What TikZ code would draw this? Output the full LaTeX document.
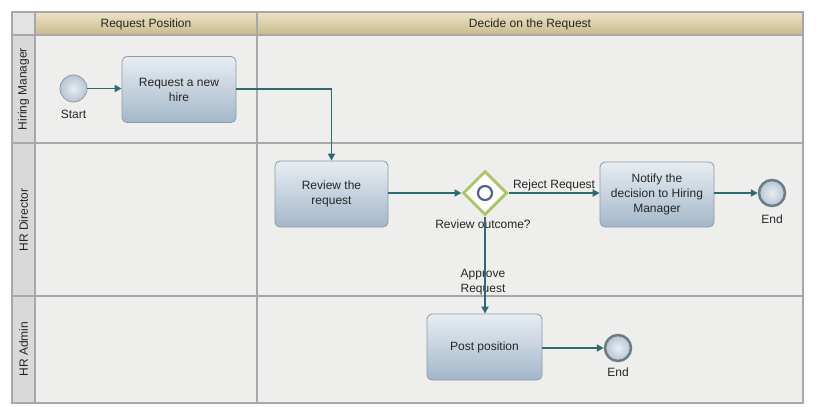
\documentclass[tikz,border=0pt]{standalone}
\usepackage{fontspec}
\setmainfont{Liberation Sans}
\usetikzlibrary{shapes.geometric,arrows.meta}
\definecolor{flow}{HTML}{2E6A72}
\definecolor{bggray}{HTML}{EEEEEC}
\definecolor{gridline}{HTML}{A8A8A8}
\definecolor{hdrtop}{HTML}{EDE3C4}
\definecolor{hdrbot}{HTML}{C9B98F}
\definecolor{lanecol}{HTML}{D9D9D9}
\definecolor{tasktop}{HTML}{E8EDF2}
\definecolor{taskbot}{HTML}{A3B7C9}
\definecolor{taskline}{HTML}{8E9AA6}
\definecolor{gwline}{HTML}{AEC46A}
\definecolor{gwring}{HTML}{4F6290}
\definecolor{endring}{HTML}{6F7B84}
\definecolor{txt}{HTML}{262626}
\begin{document}
\begin{tikzpicture}[x=1pt,y=-1pt,
  every node/.style={font=\fontsize{12}{15}\selectfont, text=txt},
  task/.style={rectangle, rounded corners=5pt, draw=taskline, line width=0.8pt,
    top color=tasktop, bottom color=taskbot, minimum width=114pt,
    minimum height=66pt, align=center, inner sep=2pt},
  gate/.style={diamond, draw=gwline, line width=3pt, fill=white,
    minimum width=44pt, minimum height=44pt, inner sep=0pt},
  endev/.style={circle, draw=endring, line width=2.5pt, inner color=tasktop,
    outer color=taskbot!80, minimum size=26pt, inner sep=0pt},
  startev/.style={circle, draw=taskline, line width=0.8pt, inner color=tasktop,
    outer color=taskbot!80, minimum size=27pt, inner sep=0pt},
  flowline/.style={draw=flow, line width=1.8pt, -{Triangle[length=7pt,width=7pt]}},
  grid/.style={draw=gridline, line width=1.1pt},
  lbl/.style={align=center, inner sep=1pt}]
\useasboundingbox (0,0) rectangle (823,407);
\fill[white] (0,0) rectangle (823,407);
% pool
\fill[bggray] (12,12) rectangle (803,403);
\shade[top color=hdrtop, bottom color=hdrbot] (35,12) rectangle (803,35);
\fill[lanecol] (12,35) rectangle (35,403);
\fill[lanecol!70] (12,12) rectangle (35,35);
% grid
\draw[grid] (12,12) rectangle (803,403);
\draw[grid] (35,12) -- (35,403);
\draw[grid] (257,12) -- (257,403);
\draw[grid] (12,35) -- (803,35);
\draw[grid] (12,143) -- (803,143);
\draw[grid] (12,296) -- (803,296);
% headers
\node (h1) at (146,24) {Request Position};
\node (h2) at (530,24) {Decide on the Request};
\node[rotate=90] (l1) at (23.5,89) {Hiring Manager};
\node[rotate=90] (l2) at (23.5,220) {HR Director};
\node[rotate=90] (l3) at (23.5,349) {HR Admin};
% nodes
\node[startev] (start) at (73.5,88.5) {};
\node[lbl] (startl) at (73.5,114) {Start};
\node[task] (req) at (179,89.5) {Request a new\\hire};
\node[task, minimum width=113pt] (rev) at (331.5,194) {Review the\\request};
\node[gate] (gw) at (485,193) {};
\draw[gwring, line width=2.2pt] (gw.center) circle (7pt);
\node[lbl] (gwl) at (483,224) {Review outcome?};
\node[task, minimum height=65pt] (notify) at (657,194.5) {Notify the\\decision to Hiring\\Manager};
\node[endev] (end1) at (772,193) {};
\node[lbl] (end1l) at (772,219) {End};
\node[lbl] (appr) at (483,282) {Approve\\Request};
\node[task, minimum width=115pt] (post) at (484.5,347) {Post position};
\node[endev] (end2) at (618,348) {};
\node[lbl] (end2l) at (618,372) {End};
% connectors
\draw[flowline] (start.east) -- (req.west |- start.east);
\draw[flowline] (req.east |- 0,89) -| (rev.north);
\draw[flowline] (rev.east |- gw.west) -- (gw.west);
\draw[flowline] (gw.east) -- node[above, lbl, pos=0.5] (rej) {Reject Request} (notify.west |- gw.east);
\draw[flowline] (notify.east |- end1.west) -- (end1.west);
\draw[flowline] (gw.south) -- (post.north -| gw.south);
\draw[flowline] (post.east |- end2.west) -- (end2.west);
\end{tikzpicture}
\end{document}
